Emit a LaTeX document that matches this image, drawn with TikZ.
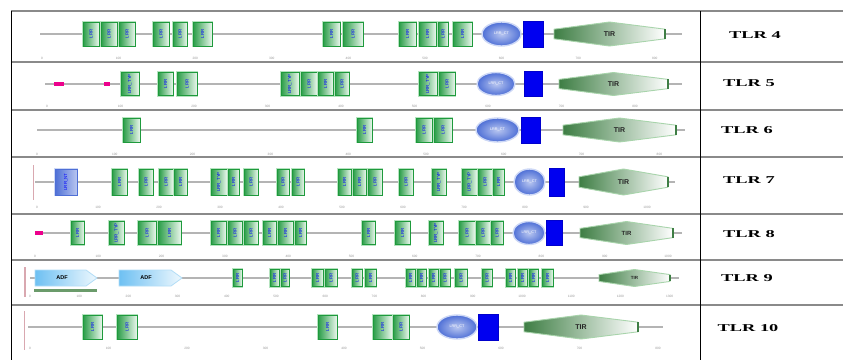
\documentclass[tikz,border=0pt]{standalone}
\usepackage{fontspec}
\usepackage{graphicx}
\usetikzlibrary{shapes.geometric}
\setmainfont{Liberation Serif}
\newfontfamily\sansf{Liberation Sans}
\definecolor{lrrdark}{HTML}{1E9A3C}
\definecolor{lrrmid}{HTML}{2A9D48}
\definecolor{lrrlight}{HTML}{EAF7ED}
\definecolor{lrrhalo}{HTML}{B5E3BF}
\definecolor{ctout}{HTML}{4E6FD6}
\definecolor{ctin}{HTML}{B8C6F0}
\definecolor{cthalo}{HTML}{CDD8F6}
\definecolor{bluedom}{HTML}{0000F0}
\definecolor{tirdark}{HTML}{3E7E44}
\definecolor{tirhalo}{HTML}{A8D4AB}
\definecolor{bbone}{HTML}{B4B4B4}
\definecolor{pinkmark}{HTML}{D9A8B0}
\definecolor{adfdark}{HTML}{6EC0F2}
\definecolor{adflight}{HTML}{EEF8FE}
\definecolor{adfhalo}{HTML}{B4DEF7}
\definecolor{barg}{HTML}{6B9B6B}
\definecolor{tablegray}{HTML}{8A8A8A}
\newcommand\lrrfont{\sansf\fontsize{4.4}{4.4}\selectfont\color{blue}}
\newcommand\lrr[4]{\node[lrrbox, minimum width={(#3-#2)*1pt}, minimum height={\rh*1pt}] (#1) at ({(#2+#3)/2},\ry) {\rotatebox{90}{\lrrfont #4}};}
\newcommand\ctdom[3]{\node[ctnode, minimum width={(#3-#2)*1pt}, minimum height={\rh*1pt}] (#1) at ({(#2+#3)/2},\ry) {LRR\_CT};}
\newcommand\bluedomain[3]{\node[bluerect, minimum width={(#3-#2)*1pt}, minimum height={(\rh+2)*1pt}] (#1) at ({(#2+#3)/2},\ry) {};}
\newcommand\tirdom[4]{%
  \path[tirfill] (#2,\ry-0.2*\rh) -- ({(#2+#3)/2},\ry-0.5*\rh) -- (#3,\ry-0.2*\rh) -- (#3,\ry+0.2*\rh) -- ({(#2+#3)/2},\ry+0.5*\rh) -- (#2,\ry+0.2*\rh) -- cycle;
  \draw[tiredge] (#3,\ry-0.2*\rh) -- (#3,\ry+0.2*\rh);
  \node[tirtext, font=\sansf\bfseries\fontsize{#4}{#4}\selectfont] (#1) at ({(#2+#3)/2},\ry) {TIR};}
\newcommand\magenta[3]{\node[magbox, minimum width={(#3-#2)*1pt}] (#1) at ({(#2+#3)/2},\ry) {};}
\newcommand\tickrow[5]{%
  \foreach \i [evaluate=\i as \v using int(\i*100)] in {0,...,#4}
    \node[ticklbl] (#5-\i) at ({#2+\i*#3},#1) {\v};}
\begin{document}
\begin{tikzpicture}[x=1pt,y=-1pt,
  lrrbox/.style={rectangle, inner sep=0pt, draw=lrrdark, line width=0.7pt, left color=lrrmid, right color=lrrlight, preaction={draw=lrrhalo, line width=2.4pt}},
  ntbox/.style={rectangle, inner sep=0pt, draw=ctout, line width=0.7pt, left color=ctout, right color=ctin, preaction={draw=cthalo, line width=2.4pt}},
  ctnode/.style={ellipse, inner sep=0pt, draw=cthalo, line width=1.4pt, inner color=ctin, outer color=ctout, font=\sansf\fontsize{3.8}{3.8}\selectfont, text=white},
  bluerect/.style={rectangle, inner sep=0pt, fill=bluedom, draw=blue!80!black, line width=0.5pt},
  tirfill/.style={draw=tirhalo, line width=0.9pt, left color=tirdark, right color=white},
  tiredge/.style={draw=tirdark, line width=1.2pt},
  tirtext/.style={inner sep=0pt, text=black!85},
  magbox/.style={rectangle, inner sep=0pt, fill=magenta, minimum height=4pt},
  backbone/.style={draw=bbone, line width=1.2pt},
  ticklbl/.style={inner sep=0pt, font=\sansf\fontsize{3.2}{3.2}\selectfont, text=gray!80},
  tlr/.style={inner sep=0pt, font=\bfseries\fontsize{10.5}{10.5}\selectfont, xscale=1.75},
  pinkline/.style={draw=pinkmark, line width=0.8pt},
  tableh/.style={draw=tablegray, line width=1.3pt},
  tablev/.style={draw=black, line width=1pt},
  adfshape/.style={draw=adfhalo, line width=0.8pt, left color=adfdark, right color=adflight},
  adftext/.style={inner sep=0pt, font=\sansf\bfseries\fontsize{5.5}{5.5}\selectfont}
]
\useasboundingbox (0,0) rectangle (843,360);
\fill[white] (0,0) rectangle (843,360);
% table
\foreach \yy in {11,62,110,157,214,260,305} \draw[tableh] (11,\yy) -- (843,\yy);
\draw[tablev] (11,11) -- (11,360);
\draw[tablev] (700,11) -- (700,360);

% ---------- TLR 4
\def\ry{34}\def\rh{24}
\coordinate (a-s) at (40,\ry); \coordinate (a-e) at (682,\ry);
\draw[backbone] (a-s) -- (a-e);
\lrr{a1}{83}{99}{LRR}\lrr{a2}{101}{117}{LRR}\lrr{a3}{119}{135}{LRR}
\lrr{a4}{153}{169}{LRR}\lrr{a5}{173}{187}{LRR}\lrr{a6}{193}{212}{LRR}
\lrr{a7}{323}{340}{LRR}\lrr{a8}{343}{363}{LRR}
\lrr{a9}{399}{416}{LRR}\lrr{a10}{419}{436}{LRR}\lrr{a11}{438}{448}{LRR}\lrr{a12}{453}{472}{LRR}
\ctdom{act}{482}{521}
\bluedomain{abl}{523}{543}
\tirdom{atir}{554}{665}{7}
\tickrow{58}{42}{76.6}{8}{at}
\node[tlr] (lab4) at (755,35) {TLR 4};

% ---------- TLR 5
\def\ry{84}\def\rh{23}
\coordinate (b-s) at (45,\ry); \coordinate (b-e) at (682,\ry);
\draw[backbone] (b-s) -- (b-e);
\magenta{bm1}{54}{64}\magenta{bm2}{104}{110}
\lrr{b1}{121}{139}{LRR\_TYP}\lrr{b2}{158}{173}{LRR}\lrr{b3}{177}{197}{LRR}
\lrr{b4}{281}{299}{LRR\_TYP}\lrr{b5}{301}{317}{LRR}\lrr{b6}{318}{333}{LRR}\lrr{b7}{335}{349}{LRR}
\lrr{b8}{419}{437}{LRR\_TYP}\lrr{b9}{439}{455}{LRR}
\ctdom{bct}{477}{515}
\bluedomain{bbl}{524}{542}
\tirdom{btir}{559}{668}{7}
\tickrow{106}{47}{73.5}{8}{bt}
\node[tlr] (lab5) at (749,83) {TLR 5};

% ---------- TLR 6
\def\ry{130}\def\rh{24}
\coordinate (c-s) at (37,\ry); \coordinate (c-e) at (685,\ry);
\draw[backbone] (c-s) -- (c-e);
\lrr{c1}{123}{140}{LRR}\lrr{c2}{357}{372}{LRR}\lrr{c3}{416}{432}{LRR}\lrr{c4}{434}{452}{LRR}
\ctdom{cct}{476}{519}
\bluedomain{cbl}{521}{540}
\tirdom{ctir}{563}{676}{7}
\tickrow{154}{37}{77.8}{8}{ct}
\node[tlr] (lab6) at (747,130) {TLR 6};

% ---------- TLR 7
\def\ry{182}\def\rh{26}
\coordinate (d-p1) at (33,165); \coordinate (d-p2) at (33,200);
\draw[pinkline] (d-p1) -- (d-p2);
\coordinate (d-s) at (35,\ry); \coordinate (d-e) at (675,\ry);
\draw[backbone] (d-s) -- (d-e);
\node[ntbox, minimum width=22pt, minimum height=26pt] (dnt) at (66,\ry) {\rotatebox{90}{\lrrfont LRR\_NT}};
\lrr{d1}{112}{127}{LRR}\lrr{d2}{139}{153}{LRR}\lrr{d3}{159}{173}{LRR}\lrr{d4}{174}{187}{LRR}
\lrr{d5}{211}{227}{LRR\_TYP}\lrr{d6}{228}{239}{LRR}\lrr{d7}{244}{258}{LRR}
\lrr{d8}{277}{289}{LRR}\lrr{d9}{292}{304}{LRR}
\lrr{d10}{338}{351}{LRR}\lrr{d11}{353}{366}{LRR}\lrr{d12}{368}{382}{LRR}
\lrr{d13}{399}{413}{LRR}\lrr{d14}{432}{446}{LRR\_TYP}
\lrr{d15}{462}{477}{LRR\_TYP}\lrr{d16}{478}{492}{LRR}\lrr{d17}{493}{504}{LRR}
\ctdom{dct}{514}{545}
\bluedomain{dbl}{549}{564}
\tirdom{dtir}{579}{668}{7}
\tickrow{207}{37}{61}{10}{dt}
\node[tlr] (lab7) at (749,180) {TLR 7};

% ---------- TLR 8
\def\ry{233}\def\rh{23}
\coordinate (e-s) at (35,\ry); \coordinate (e-e) at (682,\ry);
\draw[backbone] (e-s) -- (e-e);
\magenta{em1}{35}{43}
\lrr{e1}{71}{84}{LRR}\lrr{e2}{109}{124}{LRR\_TYP}\lrr{e3}{138}{156}{LRR}\lrr{e4}{158}{181}{LRR}
\lrr{e5}{211}{226}{LRR}\lrr{e6}{228}{242}{LRR}\lrr{e7}{244}{258}{LRR}\lrr{e8}{263}{276}{LRR}
\lrr{e9}{278}{293}{LRR}\lrr{e10}{295}{306}{LRR}
\lrr{e11}{362}{375}{LRR}\lrr{e12}{395}{410}{LRR}\lrr{e13}{429}{443}{LRR\_TYP}
\lrr{e14}{459}{475}{LRR}\lrr{e15}{476}{490}{LRR}\lrr{e16}{491}{503}{LRR}
\ctdom{ect}{513}{545}
\bluedomain{ebl}{546}{562}
\tirdom{etir}{580}{673}{6}
\tickrow{256}{35}{63.3}{10}{et}
\node[tlr] (lab8) at (749,234) {TLR 8};

% ---------- TLR 9
\def\ry{278}\def\rh{17}
\coordinate (f-p1) at (25,267); \coordinate (f-p2) at (25,297);
\draw[pinkline, line width=1.4pt] (f-p1) -- (f-p2);
\coordinate (f-s) at (30,\ry); \coordinate (f-e) at (679,\ry);
\draw[backbone] (f-s) -- (f-e);
\path[adfshape] (35,270) -- (86,270) -- (97,278) -- (86,286) -- (35,286) -- cycle;
\node[adftext] (fadf1) at (62,278) {ADF};
\path[adfshape] (119,270) -- (171,270) -- (182,278) -- (171,286) -- (119,286) -- cycle;
\node[adftext] (fadf2) at (146,278) {ADF};
\fill[barg] (34,288.5) rectangle (97,291.5);
\lrr{f1}{233}{242}{LRR}\lrr{f2}{270}{279}{LRR}\lrr{f3}{281}{289}{LRR}
\lrr{f4}{312}{323}{LRR}\lrr{f5}{325}{337}{LRR}\lrr{f6}{352}{362}{LRR}\lrr{f7}{365}{376}{LRR}
\lrr{f8}{406}{415}{LRR}\lrr{f9}{417}{426}{LRR}\lrr{f10}{429}{438}{LRR}\lrr{f11}{440}{450}{LRR}
\lrr{f12}{455}{467}{LRR}\lrr{f13}{482}{492}{LRR}
\lrr{f14}{506}{515}{LRR}\lrr{f15}{518}{527}{LRR}\lrr{f16}{529}{538}{LRR}\lrr{f17}{542}{553}{LRR}
\tirdom{ftir}{599}{670}{4.5}
\tickrow{296}{30}{49.2}{13}{ft}
\node[tlr] (lab9) at (747,278) {TLR 9};

% ---------- TLR 10
\def\ry{327}\def\rh{24}
\coordinate (g-p1) at (24,311); \coordinate (g-p2) at (24,350);
\draw[pinkline] (g-p1) -- (g-p2);
\coordinate (g-s) at (28,\ry); \coordinate (g-e) at (663,\ry);
\draw[backbone] (g-s) -- (g-e);
\lrr{g1}{83}{102}{LRR}\lrr{g2}{117}{137}{LRR}\lrr{g3}{318}{337}{LRR}
\lrr{g4}{373}{392}{LRR}\lrr{g5}{393}{409}{LRR}
\ctdom{gct}{437}{477}
\bluedomain{gbl}{478}{498}
\tirdom{gtir}{524}{638}{7}
\tickrow{348}{30}{78.5}{8}{gt}
\node[tlr] (lab10) at (748,328) {TLR 10};
\end{tikzpicture}
\end{document}
